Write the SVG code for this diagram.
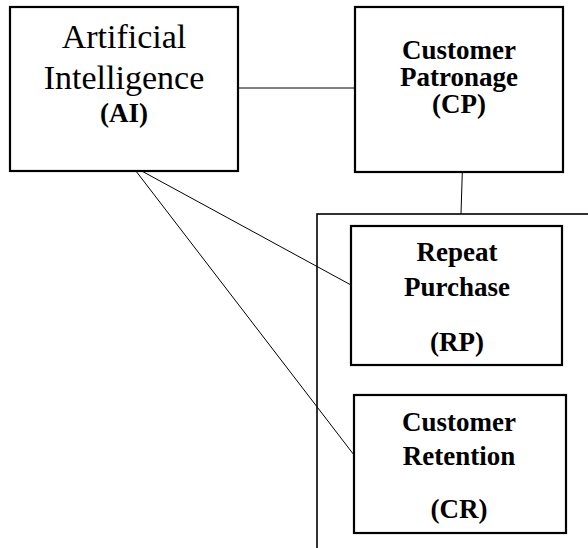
<svg xmlns="http://www.w3.org/2000/svg" width="588" height="548" viewBox="0 0 588 548">
<style>
.box{fill:#fff;stroke:#000;stroke-width:2.2}
.cont{fill:none;stroke:#000;stroke-width:1.6}
.ln{stroke:#000;stroke-width:1;fill:none}
.r{font-family:"Liberation Serif",serif;font-size:34px;text-anchor:middle;fill:#000}
.b{font-family:"Liberation Serif",serif;font-size:27px;font-weight:bold;text-anchor:middle;fill:#000}
</style>
<rect width="588" height="548" fill="#fff"/>
<g id="container"><rect class="cont" x="317" y="214" width="290" height="360"/></g>
<g id="connectors">
<line class="ln" x1="238" y1="88" x2="355" y2="88"/>
<line class="ln" x1="462.3" y1="172" x2="461" y2="214"/>
<line class="ln" x1="141.7" y1="171" x2="351" y2="285"/>
<line class="ln" x1="136.7" y1="172" x2="354" y2="455"/>
</g>
<g id="AI"><rect class="box" x="10" y="7" width="228" height="164"/>
<text class="r" x="124" y="48">Artificial</text>
<text class="r" x="124" y="89">Intelligence</text>
<text class="b" x="124" y="122">(AI)</text></g>
<g id="CP"><rect class="box" x="355" y="7" width="208" height="165"/>
<text class="b" x="459" y="59">Customer</text>
<text class="b" x="459" y="86">Patronage</text>
<text class="b" x="459" y="113">(CP)</text></g>
<g id="RP"><rect class="box" x="351" y="226" width="211" height="139"/>
<text class="b" x="457" y="261">Repeat</text>
<text class="b" x="457" y="296">Purchase</text>
<text class="b" x="457" y="351">(RP)</text></g>
<g id="CR"><rect class="box" x="354" y="395" width="212" height="138"/>
<text class="b" x="459" y="431">Customer</text>
<text class="b" x="459" y="465">Retention</text>
<text class="b" x="459" y="518">(CR)</text></g>
</svg>
